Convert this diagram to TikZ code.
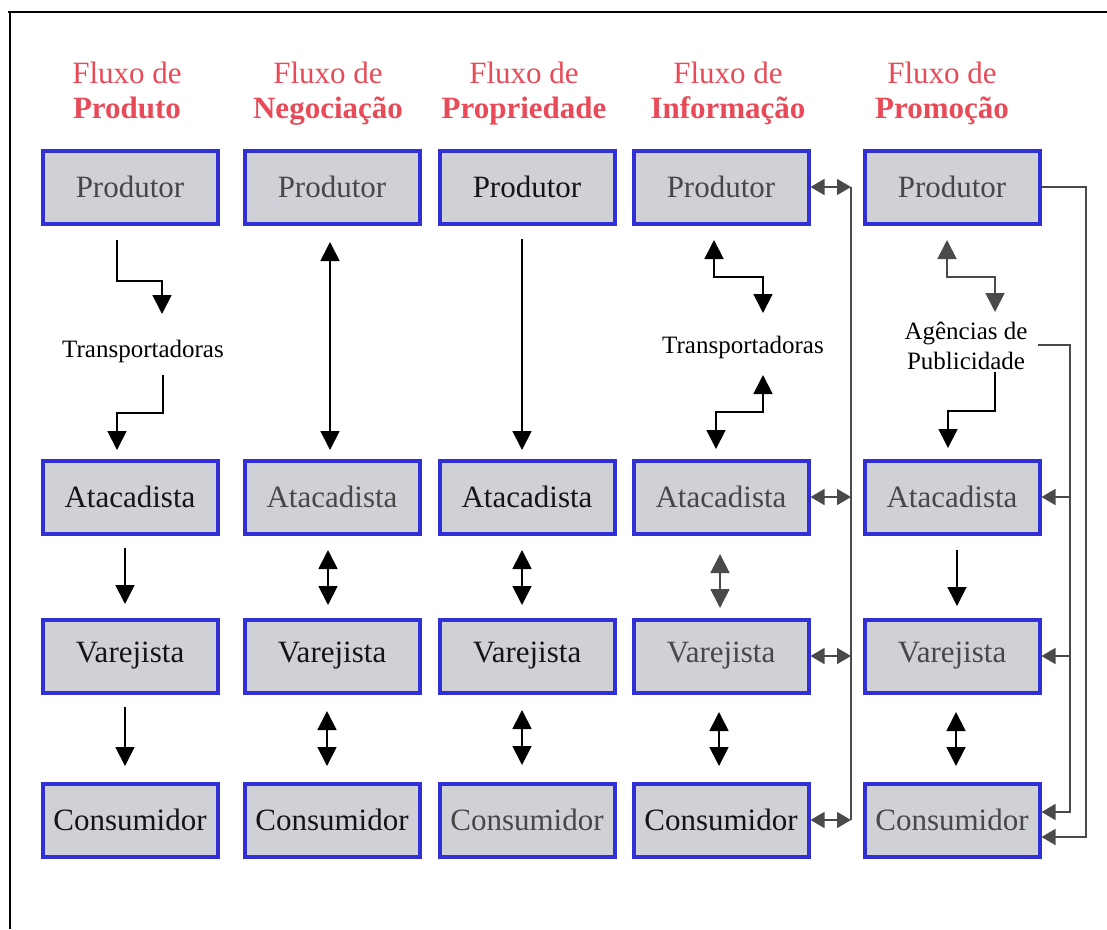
\documentclass[tikz,border=0pt]{standalone}
\usepackage{fontspec}
\setmainfont{Liberation Serif}
\usetikzlibrary{arrows.meta}
\definecolor{boxfill}{HTML}{D0D1D6}
\definecolor{boxline}{HTML}{3030D6}
\definecolor{headred}{HTML}{E84A58}
\definecolor{inkgray}{HTML}{474747}
\definecolor{inkdark}{HTML}{141414}
\definecolor{wire}{HTML}{4A4A4A}
\begin{document}
\begin{tikzpicture}[x=1pt,y=-1pt,
  actor/.style={rectangle, draw=boxline, line width=4pt, fill=boxfill,
    minimum width=175pt, minimum height=73pt, inner sep=0pt,
    font=\fontsize{31}{35}\selectfont, text=inkgray},
  dark/.style={text=inkdark},
  heading/.style={align=center, text=headred, font=\fontsize{31}{35}\selectfont,
    inner sep=0pt, text depth=8pt},
  agent/.style={align=center, font=\fontsize{25}{30}\selectfont, inner sep=0pt},
  flow/.style={line width=1.8pt, draw=black},
  one/.style={flow, -{Triangle[length=19pt,width=19pt]}},
  two/.style={flow, {Triangle[length=19pt,width=19pt]}-{Triangle[length=19pt,width=19pt]}},
  greytwo/.style={line width=1.8pt, draw=wire, {Triangle[length=19pt,width=19pt]}-{Triangle[length=19pt,width=19pt]}},
  busline/.style={line width=1.6pt, draw=wire},
  tap/.style={busline, {Triangle[length=14pt,width=16pt]}-{Triangle[length=14pt,width=16pt]}},
  feed/.style={busline, -{Triangle[length=14pt,width=16pt]}}
]
\useasboundingbox (0,0) rectangle (1107,929);
\fill[white] (0,0) rectangle (1107,929);

% page frame (top and left edges)
\draw[line width=2.5pt] (8,12) -- (1107,12);
\draw[line width=2.5pt] (10,12) -- (10,929);

% column headings
\node[heading] (h1) at (127,94) {Fluxo de\\\textbf{Produto}};
\node[heading] (h2) at (328,94) {Fluxo de\\\textbf{Negociação}};
\node[heading] (h3) at (524,94) {Fluxo de\\\textbf{Propriedade}};
\node[heading] (h4) at (728,94) {Fluxo de\\\textbf{Informação}};
\node[heading] (h5) at (942,94) {Fluxo de\\\textbf{Promoção}};

% producers
\node[actor]       (p1) at (130,187) {Produtor};
\node[actor]       (p2) at (332,187) {Produtor};
\node[actor, dark] (p3) at (527,187) {Produtor};
\node[actor]       (p4) at (721,187) {Produtor};
\node[actor]       (p5) at (952,187) {Produtor};
% wholesalers
\node[actor, dark] (at1) at (130,497) {Atacadista};
\node[actor]       (at2) at (332,497) {Atacadista};
\node[actor, dark] (at3) at (527,497) {Atacadista};
\node[actor]       (at4) at (721,497) {Atacadista};
\node[actor]       (at5) at (952,497) {Atacadista};
% retailers
\node[actor, dark] (v1) at (130,656) {Varejista};
\node[actor, dark] (v2) at (332,656) {Varejista};
\node[actor, dark] (v3) at (527,656) {Varejista};
\node[actor]       (v4) at (721,656) {Varejista};
\node[actor]       (v5) at (952,656) {Varejista};
% consumers
\node[actor, dark] (c1) at (130,820) {Consumidor};
\node[actor, dark] (c2) at (332,820) {Consumidor};
\node[actor]       (c3) at (527,820) {Consumidor};
\node[actor, dark] (c4) at (721,820) {Consumidor};
\node[actor]       (c5) at (952,820) {Consumidor};

% intermediaries
\node[agent] (t1) at (143,351) {Transportadoras};
\node[agent] (t4) at (743,347) {Transportadoras};
\node[agent] (a5) at (966,346) {Agências de\\Publicidade};

% product flow
\draw[one] ([shift={(-13,14.5)}]p1.south) -- ++(0,41) -| ([shift={(19,-37)}]t1.center);
\draw[one] ([shift={(20,24)}]t1.center) -- ++(0,38) -| ([shift={(-13,-8.5)}]at1.north);
\draw[one] ([shift={(-5,12.5)}]at1.south) -- ([shift={(-5,-13.5)}]v1.north);
\draw[one] ([shift={(-5,12.5)}]v1.south) -- ([shift={(-5,-15.5)}]c1.north);

% negotiation flow
\draw[two] ([shift={(-2,16.5)}]p2.south) -- ([shift={(-2,-8.5)}]at2.north);
\draw[two] ([shift={(-4,14.5)}]at2.south) -- ([shift={(-4,-12.5)}]v2.north);
\draw[two] ([shift={(-5,16.5)}]v2.south) -- ([shift={(-5,-15.5)}]c2.north);

% ownership flow
\draw[one] ([shift={(-5,13.5)}]p3.south) -- ([shift={(-5,-8.5)}]at3.north);
\draw[two] ([shift={(-5,14.5)}]at3.south) -- ([shift={(-5,-12.5)}]v3.north);
\draw[two] ([shift={(-5,15.5)}]v3.south) -- ([shift={(-5,-16.5)}]c3.north);

% information flow
\draw[two] ([shift={(-7,14.5)}]p4.south) -- ++(0,37) -| ([shift={(20,-34)}]t4.center);
\draw[two] ([shift={(20,28)}]t4.center) -- ++(0,37) -| ([shift={(-5,-9.5)}]at4.north);
\draw[greytwo] ([shift={(-1,18.5)}]at4.south) -- ([shift={(-1,-9.5)}]v4.north);
\draw[two] ([shift={(-2,17.5)}]v4.south) -- ([shift={(-2,-15.5)}]c4.north);

% information bus linking every level
\coordinate (bus) at (851,0);
\draw[busline] (p4.east -| bus) -- (c4.east -| bus);
\draw[tap] (p4.east) -- (p4.east -| bus);
\draw[tap] (at4.east) -- (at4.east -| bus);
\draw[tap] (v4.east) -- (v4.east -| bus);
\draw[tap] (c4.east) -- (c4.east -| bus);

% promotion flow
\draw[greytwo] ([shift={(-5,14.5)}]p5.south) -- ++(0,37) -| ([shift={(29,-34)}]a5.center);
\draw[one] ([shift={(29,26)}]a5.center) -- ++(0,39) -| ([shift={(-4,-10.5)}]at5.north);
\draw[one] ([shift={(5,14.5)}]at5.south) -- ([shift={(5,-11.5)}]v5.north);
\draw[two] ([shift={(4,17.5)}]v5.south) -- ([shift={(4,-15.5)}]c5.north);

% direct promotion from the producer and through the agencies
\coordinate (outer) at (1086,837);
\coordinate (inner) at (1070,812);
\draw[feed] (p5.east) -| (outer) -- ([yshift=-17pt]c5.east);
\draw[feed] ([shift={(72,-1)}]a5.center) -| (inner) -- ([yshift=8pt]c5.east);
\draw[feed] (at5.east -| inner) -- (at5.east);
\draw[feed] (v5.east -| inner) -- (v5.east);
\end{tikzpicture}
\end{document}
